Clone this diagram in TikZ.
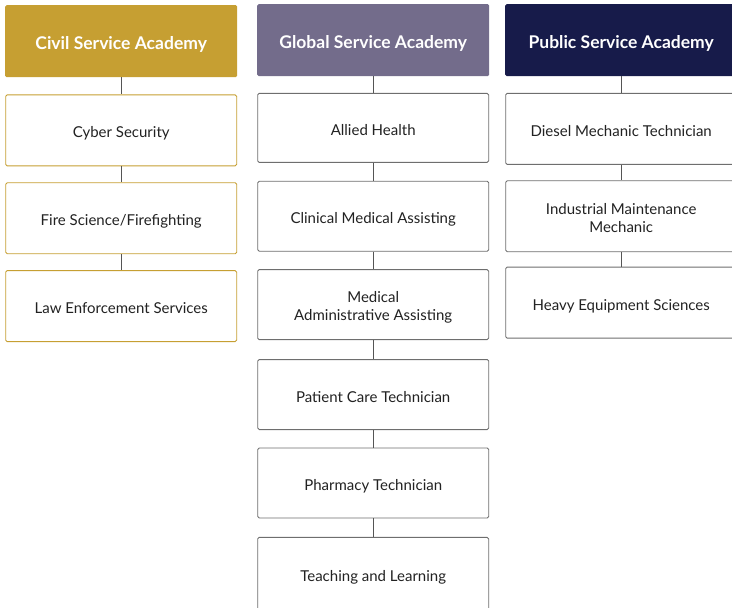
\documentclass[tikz,border=0pt]{standalone}
\usepackage{fontspec}
\setmainfont{Lato}
\usetikzlibrary{positioning}
\definecolor{Gold}{HTML}{C69F32}
\definecolor{Violet}{HTML}{736C8B}
\definecolor{Navy}{HTML}{171B4A}
\definecolor{Ink}{HTML}{222222}
\definecolor{Frame}{HTML}{6E6E6E}
\definecolor{Stem}{HTML}{555555}
\definecolor{White}{HTML}{FFFFFF}
\tikzset{
    headnode/.style={rectangle, rounded corners=1.5pt, text=White, inner sep=0pt,
        minimum width=232pt, minimum height=72pt, font=\fontsize{17.5}{20}\selectfont\bfseries,
        execute at begin node={\rule[-4.5pt]{0pt}{25pt}}},
    itemnode/.style={rectangle, rounded corners=1.5pt, draw=Frame, line width=0.9pt, fill=White,
        text=Ink, align=center, inner sep=0pt, minimum width=231pt, minimum height=71pt,
        font=\fontsize{15}{18}\selectfont,
        execute at begin node={\rule[-4pt]{0pt}{23pt}}},
    twoline/.style={execute at begin node={\rule[-4pt]{0pt}{40pt}}},
    stem/.style={draw=Stem, line width=1.4pt},
}

\begin{document}
\begin{tikzpicture}[x=1pt, y=-1pt]
    \useasboundingbox (0,0) rectangle (732,608);

    % Civil Service Academy
    \node[headnode, fill=Gold, anchor=north west] (civil) at (5,5) {Civil Service Academy};
    \node[itemnode, draw=Gold, below=17pt of civil] (cyber) {Cyber Security};
    \node[itemnode, draw=Gold, below=16pt of cyber] (fire) {Fire Science/Firefighting};
    \node[itemnode, draw=Gold, below=16pt of fire] (law) {Law Enforcement Services};

    \draw[stem] (civil) -- (cyber);
    \draw[stem] (cyber) -- (fire);
    \draw[stem] (fire) -- (law);

    % Global Service Academy
    \node[headnode, fill=Violet, anchor=north west] (global) at (257,4) {Global Service Academy};
    \node[itemnode, minimum height=69pt, below=16.5pt of global] (allied) {Allied Health};
    \node[itemnode, minimum height=70pt, below=18pt of allied] (clinical) {Clinical Medical Assisting};
    \node[itemnode, twoline, minimum height=70pt, below=17.5pt of clinical] (medadmin) {Medical\\Administrative Assisting};
    \node[itemnode, minimum height=70pt, below=19pt of medadmin] (patient) {Patient Care Technician};
    \node[itemnode, minimum height=70pt, below=17.5pt of patient] (pharmacy) {Pharmacy Technician};
    \node[itemnode, minimum height=74pt, below=18.5pt of pharmacy] (teaching) {Teaching and Learning};

    \draw[stem] (global) -- (allied);
    \draw[stem] (allied) -- (clinical);
    \draw[stem] (clinical) -- (medadmin);
    \draw[stem] (medadmin) -- (patient);
    \draw[stem] (patient) -- (pharmacy);
    \draw[stem] (pharmacy) -- (teaching);

    % Public Service Academy
    \node[headnode, fill=Navy, anchor=north west] (public) at (505,4) {Public Service Academy};
    \node[itemnode, below=16.5pt of public] (diesel) {Diesel Mechanic Technician};
    \node[itemnode, twoline, below=15.5pt of diesel] (industrial) {Industrial Maintenance\\Mechanic};
    \node[itemnode, minimum height=71pt, below=14.5pt of industrial] (heavy) {Heavy Equipment Sciences};

    \draw[stem] (public) -- (diesel);
    \draw[stem] (diesel) -- (industrial);
    \draw[stem] (industrial) -- (heavy);
\end{tikzpicture}
\end{document}
